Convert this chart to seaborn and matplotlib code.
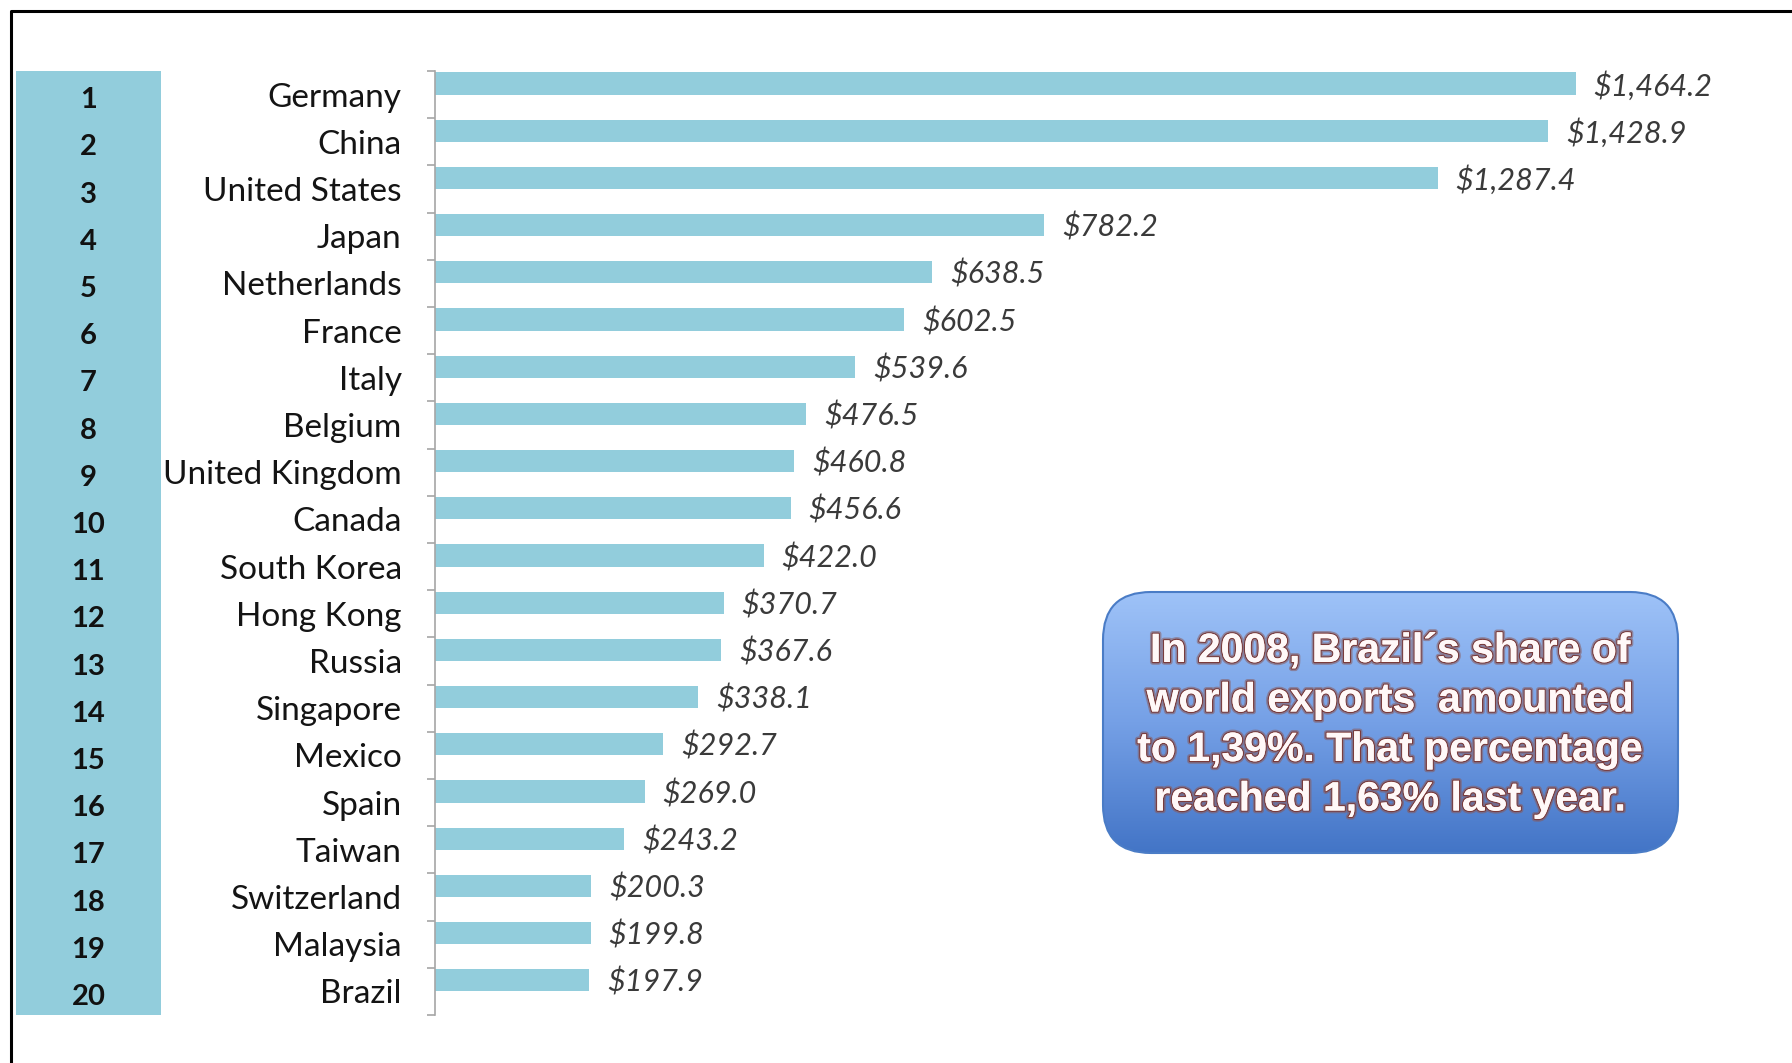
import numpy as np
import pandas as pd
import matplotlib
matplotlib.use("Agg")
import matplotlib.pyplot as plt
import matplotlib.patheffects as pe
from matplotlib.colors import LinearSegmentedColormap
from matplotlib.lines import Line2D
from matplotlib.patches import FancyBboxPatch
import seaborn as sns

# top 20 exporters (US$ billion)
ranks = [1, 2, 3, 4, 5, 6, 7, 8, 9, 10, 11, 12, 13, 14, 15, 16, 17, 18, 19, 20]
countries = ["Germany", "China", "United States", "Japan", "Netherlands", "France",
             "Italy", "Belgium", "United Kingdom", "Canada", "South Korea", "Hong Kong",
             "Russia", "Singapore", "Mexico", "Spain", "Taiwan", "Switzerland",
             "Malaysia", "Brazil"]
exports = [1464.2, 1428.9, 1287.4, 782.2, 638.5, 602.5, 539.6, 476.5, 460.8, 456.6,
           422.0, 370.7, 367.6, 338.1, 292.7, 269.0, 243.2, 200.3, 199.8, 197.9]
note_lines = ["In 2008, Brazil\u00b4s share of",
              "world exports  amounted",
              "to 1,39%. That percentage",
              "reached 1,63% last year."]

BAR = "#92CDDC"
W, H = 1792, 1063

sns.set_theme(style="white")
plt.rcParams["font.family"] = ["Lato", "DejaVu Sans"]

fig = plt.figure(figsize=(W / 100, H / 100), dpi=100)
fig.patch.set_facecolor("white")

bottom = 1 - 1015 / H
height = (1015 - 71) / H

# main bar chart
ax = fig.add_axes([435 / W, bottom, (W - 435) / W, height])
ax.set_facecolor("none")
df = pd.DataFrame({"country": countries, "exports": exports, "series": "exports"})
sns.barplot(data=df, x="exports", y="country", hue="series",
            hue_order=["exports", "spacer"], palette=[BAR, BAR],
            width=0.94, dodge=True, saturation=1, linewidth=0,
            legend=False, ax=ax)
ax.set_xlim(0, 1742)
ax.set_ylim(len(countries) - 0.5, -0.5)
ax.set_xlabel("")
ax.set_ylabel("")
ax.set_xticks([])
ax.set_yticks(np.arange(-0.5, len(countries), 1), minor=True)
ax.tick_params(axis="y", which="major", length=0, pad=24, labelsize=24,
               labelcolor="#141414")
ax.tick_params(axis="y", which="minor", length=6, width=1.2, color="#a6a6a6",
               left=True)
sns.despine(ax=ax, left=False, bottom=True)
ax.spines["left"].set_color("#a6a6a6")
ax.spines["left"].set_linewidth(1.2)

for i, v in enumerate(exports):
    ax.text(v + 23, i - 0.19, f"${v:,.1f}", va="center", ha="left",
            fontsize=22, style="italic", color="#3a3a3a")

# rank column
ax_rank = fig.add_axes([16 / W, bottom, 145 / W, height])
ax_rank.set_facecolor(BAR)
ax_rank.set_xlim(0, 1)
ax_rank.set_ylim(len(ranks) - 0.5, -0.5)
ax_rank.set_xticks([])
ax_rank.set_yticks([])
for s in ax_rank.spines.values():
    s.set_visible(False)
for i, r in enumerate(ranks):
    ax_rank.text(0.5, i + 0.12, str(r), ha="center", va="center",
                 fontsize=21, fontweight="bold", color="#111111")

# slide frame
fig.add_artist(Line2D([11 / W, 11 / W, 1], [0, 1 - 11 / H, 1 - 11 / H],
                      transform=fig.transFigure, color="black", lw=2.2))

# callout box
ax_note = fig.add_axes([1101 / W, 1 - 855 / H, 579 / W, 265 / H])
ax_note.set_xlim(0, 579)
ax_note.set_ylim(0, 265)
ax_note.axis("off")
grad = np.linspace(0, 1, 256).reshape(-1, 1)
cmap = LinearSegmentedColormap.from_list("note", ["#9fc3f8", "#75a0e6", "#4274c6"])
im = ax_note.imshow(grad, extent=[0, 579, 0, 265], aspect="auto", cmap=cmap,
                    origin="upper")
box = FancyBboxPatch((2, 2), 575, 261, boxstyle="round,pad=0,rounding_size=48",
                     transform=ax_note.transData, facecolor="none",
                     edgecolor="#4a7cc6", lw=1.5)
ax_note.add_patch(box)
im.set_clip_path(box)
for k, line in enumerate(note_lines):
    ax_note.text(289, 204 - k * 49.5, line, ha="center", va="center",
                 color="#fff8f8", fontsize=29.5, fontweight="bold",
                 family=["Liberation Sans", "DejaVu Sans"],
                 path_effects=[pe.withStroke(linewidth=4, foreground="#8a5a5a", alpha=0.55),
                               pe.withStroke(linewidth=1.8, foreground="#7a3c3c"),
                               pe.Normal()])

fig.savefig("out.png", dpi=100, facecolor="white")
